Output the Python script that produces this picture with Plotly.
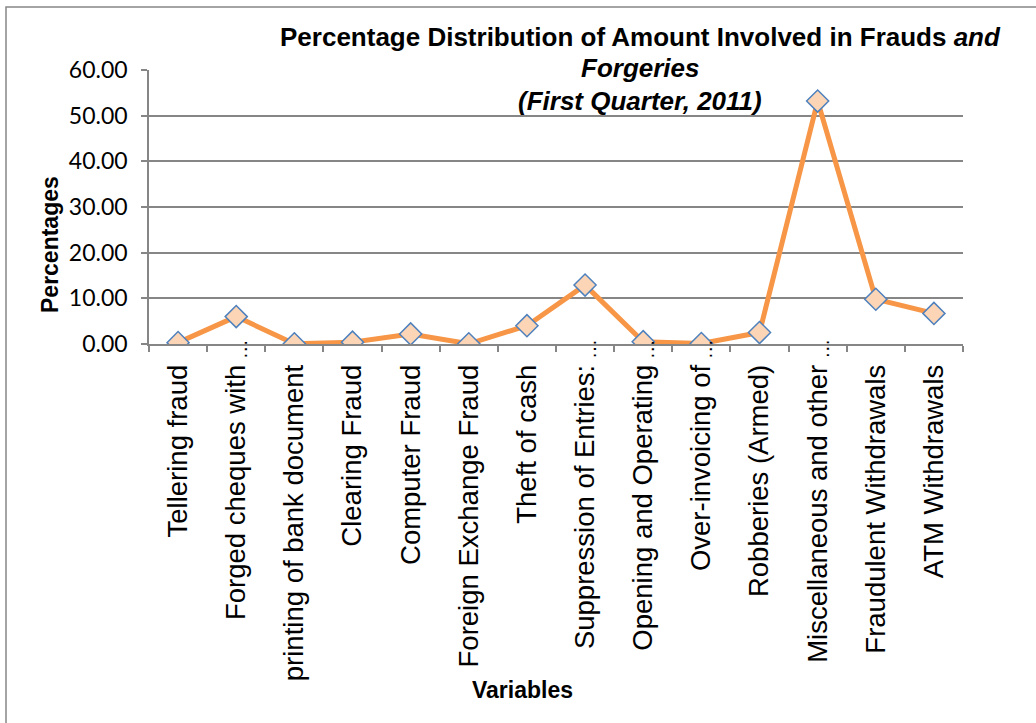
import plotly.graph_objects as go

categories = [
    "Tellering fraud",
    "Forged cheques with…",
    "printing of bank document",
    "Clearing Fraud",
    "Computer Fraud",
    "Foreign Exchange Fraud",
    "Theft of cash",
    "Suppression of Entries:…",
    "Opening and Operating…",
    "Over-invoicing of…",
    "Robberies (Armed)",
    "Miscellaneous and other…",
    "Fraudulent Withdrawals",
    "ATM Withdrawals",
]
percentages = [0.3, 6.0, 0.05, 0.4, 2.2, 0.05, 4.0, 12.9, 0.5, 0.1, 2.5, 53.2, 9.8, 6.7]
y_ticks = [0, 10, 20, 30, 40, 50, 60]

W, H = 1036, 723
L, R, T, B = 149, 963, 70, 344
pw, ph = R - L, B - T

def px(x):
    return (x - L) / pw

def py(y):
    return (B - y) / ph

GRAY = "#868686"

# the chart shows the ellipsis of truncated labels next to the axis line
tick_text = [c.rstrip("…") for c in categories]

fig = go.Figure()
fig.add_trace(go.Scatter(
    x=categories, y=percentages, mode="lines+markers",
    line=dict(color="#F79646", width=5),
    marker=dict(symbol="diamond", size=17, color="#FBD5B5",
                line=dict(color="#4F81BD", width=1.5)),
    showlegend=False,
))

fig.update_layout(
    width=W, height=H,
    margin=dict(l=L, r=W - R, t=T, b=H - B, pad=0),
    paper_bgcolor="white", plot_bgcolor="white",
    xaxis=dict(
        type="category", tickangle=-90, showgrid=False,
        range=[-0.5, len(categories) - 0.5],
        tickmode="array", tickvals=categories, ticktext=tick_text,
        showline=True, linecolor=GRAY, linewidth=1.5,
        ticks="outside", tickson="boundaries", ticklen=6, tickcolor=GRAY, tickwidth=1.5,
        tickfont=dict(family="Liberation Sans", size=27.5, color="black"),
        ticklabelstandoff=8,
    ),
    yaxis=dict(
        range=[0, 60], tickvals=y_ticks, ticktext=[f"{v:.2f}" for v in y_ticks],
        showgrid=True, gridcolor=GRAY, gridwidth=1.5,
        showline=True, linecolor=GRAY, linewidth=1.5,
        ticks="outside", ticklen=6, tickcolor=GRAY, tickwidth=1.5,
        tickfont=dict(family="Lato", size=23, color="black"),
        ticklabelstandoff=9, zeroline=False,
    ),
)

for c in categories:
    if c.endswith("…"):
        fig.add_annotation(text="…", x=c, xref="x", yref="paper", y=py(349),
                           showarrow=False, textangle=-90,
                           font=dict(family="Liberation Sans", size=20, color="black"),
                           xanchor="center", yanchor="middle", xshift=4)

title_font = dict(family="Liberation Sans Narrow, Arial Narrow, Liberation Sans", size=26, color="black")
axis_title_font = dict(family="Liberation Sans Narrow, Arial Narrow, Liberation Sans", size=23, color="black")
fig.add_annotation(text="<b>Percentage Distribution of Amount Involved in Frauds <i>and</i></b>",
                   xref="paper", yref="paper", x=px(640), y=py(37), showarrow=False,
                   font=title_font, xanchor="center", yanchor="middle")
fig.add_annotation(text="<b><i>Forgeries</i></b>",
                   xref="paper", yref="paper", x=px(640), y=py(68), showarrow=False,
                   font=title_font, xanchor="center", yanchor="middle")
fig.add_annotation(text="<b><i>(First Quarter, 2011)</i></b>",
                   xref="paper", yref="paper", x=px(640), y=py(101), showarrow=False,
                   font=title_font, xanchor="center", yanchor="middle")

fig.add_annotation(text="<b>Variables</b>", xref="paper", yref="paper",
                   x=px(522), y=py(690), showarrow=False, font=axis_title_font,
                   xanchor="center", yanchor="middle")
fig.add_annotation(text="<b>Percentages</b>", xref="paper", yref="paper",
                   x=px(50), y=py(245), showarrow=False, font=axis_title_font, textangle=-90,
                   xanchor="center", yanchor="middle")

fig.add_shape(type="rect", xref="paper", yref="paper",
              x0=px(6), x1=px(1045), y0=py(735), y1=py(7),
              line=dict(color=GRAY, width=1.5), fillcolor="rgba(0,0,0,0)", layer="below")

fig.write_html("out.html", config={"displayModeBar": False},
               post_script="document.body.style.margin='0';")
